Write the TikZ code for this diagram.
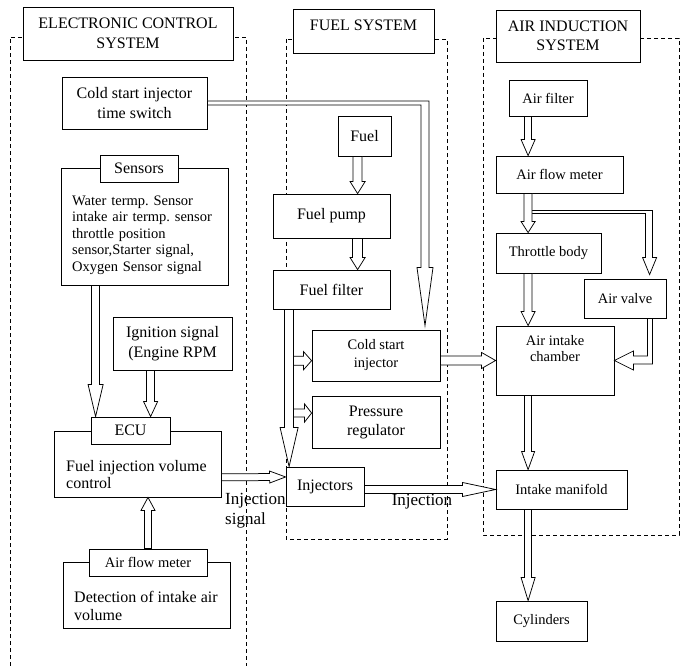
\documentclass[tikz,border=0pt]{standalone}
\usepackage{fontspec}
\setmainfont{Liberation Serif}
\usetikzlibrary{calc}
\frenchspacing
\newcommand\fsA{\fontsize{16}{20}\selectfont}
\newcommand\fsB{\fontsize{14.5}{16.5}\selectfont}
\newcommand\fsC{\fontsize{17}{20}\selectfont}
\tikzset{
  box/.style={draw, line width=0.8pt, fill=white, inner sep=0pt, align=center, font=\fsA},
  txt/.style={inner sep=0pt, align=left},
  frame/.style={line width=0.7pt, dash pattern=on 4pt off 3pt},
  fatarrow/.style={draw, line width=0.75pt, fill=white},
  fat/.style n args={3}{to path={
    let \p1=(\tikztostart), \p2=(\tikztotarget),
        \n1={veclen(\x2-\x1,\y2-\y1)},
        \n2={(\x2-\x1)/\n1}, \n3={(\y2-\y1)/\n1} in
    (\x1-#1*\n3*1pt, \y1+#1*\n2*1pt)
    -- (\x2-#3*\n2*1pt-#1*\n3*1pt, \y2-#3*\n3*1pt+#1*\n2*1pt)
    -- (\x2-#3*\n2*1pt-#2*\n3*1pt, \y2-#3*\n3*1pt+#2*\n2*1pt)
    -- (\x2,\y2)
    -- (\x2-#3*\n2*1pt+#2*\n3*1pt, \y2-#3*\n3*1pt-#2*\n2*1pt)
    -- (\x2-#3*\n2*1pt+#1*\n3*1pt, \y2-#3*\n3*1pt-#1*\n2*1pt)
    -- (\x1+#1*\n3*1pt, \y1-#1*\n2*1pt) -- cycle}}
}
\begin{document}
\begin{tikzpicture}[x=1pt,y=-1pt]
\useasboundingbox (0,0) rectangle (686,666);
% dashed system frames
\draw[frame] (10,666) |- (246,37) -- (246,666);
\draw[frame] (286,39) rectangle (447,539);
\draw[frame] (483,38) rectangle (679,535);

% titles
\node[box, minimum width=210, minimum height=53] (ect) at (128,33.5) {ELECTRONIC CONTROL\\SYSTEM};
\node[box, minimum width=141, minimum height=44, text height=11pt, text depth=12pt] (fst) at (363.5,31) {FUEL SYSTEM};
\node[box, minimum width=144, minimum height=52, font=\fontsize{16}{19}\selectfont] (ais) at (568,36) {AIR INDUCTION\\SYSTEM};

% electronic control system
\node[box, minimum width=145, minimum height=52] (cst) at (134.5,103) {Cold start injector\\time switch};
\node[box, minimum width=167, minimum height=117] (sens) at (144.5,226.5) {};
\node[box, minimum width=78, minimum height=27] (sensL) at (139,168.5) {Sensors};
\node[txt, anchor=west, font=\fsB, text width=152] (sensT) at (72,235) {Water termp. Sensor\\intake air termp. sensor\\throttle position\\sensor,Starter signal,\\Oxygen Sensor signal};
\node[box, minimum width=119, minimum height=53] (ign) at (172.5,343.5) {Ignition signal\\(Engine RPM};
\node[box, minimum width=167, minimum height=66] (ecu) at (137.5,464) {};
\node[box, minimum width=79, minimum height=27] (ecuL) at (130.5,430.5) {ECU};
\node[txt, anchor=west, font=\fontsize{16}{17}\selectfont] (ecuT) at (66,474.5) {Fuel injection volume\\control};
\node[box, minimum width=167, minimum height=66] (afmL) at (146.5,595) {};
\node[box, minimum width=118, minimum height=27, font=\fsB] (afmLL) at (148,562.5) {Air flow meter};
\node[txt, anchor=west, font=\fontsize{16}{18}\selectfont] (afmT) at (74,606) {Detection of intake air\\volume};
\node[txt, anchor=west, font=\fsC] (injsig) at (225,511) {Injection\\signal};

% fuel system
\node[box, minimum width=53, minimum height=40] (fuel) at (364.5,136) {Fuel};
\node[box, minimum width=117, minimum height=44] (fp) at (331.5,216) {Fuel pump};
\node[box, minimum width=117, minimum height=39] (ff) at (331.5,289.5) {Fuel filter};
\node[box, minimum width=128, minimum height=51, font=\fontsize{14.5}{18}\selectfont] (csi) at (376,355.5) {Cold start\\injector};
\node[box, minimum width=128, minimum height=52, font=\fontsize{16}{19}\selectfont] (pr) at (376,422) {Pressure\\regulator};
\node[box, minimum width=78, minimum height=39] (inj) at (325,486.5) {Injectors};
\node[txt, font=\fsC] (injlbl) at (422,502) {Injection};

% air induction system
\node[box, minimum width=78, minimum height=36, font=\fsB] (af) at (548,98) {Air filter};
\node[box, minimum width=127, minimum height=37, font=\fsB] (afm) at (559.5,174.5) {Air flow meter};
\node[box, minimum width=105, minimum height=40, font=\fsB] (tb) at (548.5,253) {Throttle body};
\node[box, minimum width=82, minimum height=39, font=\fsB] (av) at (625,298.5) {Air valve};
\node[box, minimum width=118, minimum height=69] (aic) at (555,360.5) {};
\node[txt, align=center, font=\fontsize{14.5}{16}\selectfont] (aicT) at (555,349) {Air intake\\chamber};
\node[box, minimum width=131, minimum height=39, font=\fsB] (im) at (561.5,489.5) {Intake manifold};
\node[box, minimum width=91, minimum height=40, font=\fsB] (cyl) at (541.5,621) {Cylinders};

% helper coordinates on box sides
\coordinate (c1) at ($(csi.north west)!0.6!(csi.south west)$);
\coordinate (c2) at ($(pr.north west)!0.33!(pr.south west)$);

% connectors (hollow arrows)
\draw[fatarrow, fat={4}{7.5}{32}] ([xshift=35pt]sens.south west) to ([xshift=5pt]ecuL.north west);
\draw[fatarrow, fat={4}{7}{15}] ([xshift=38pt]ign.south west) to ([xshift=60pt]ecuL.north west);
\draw[fatarrow, fat={3.5}{7}{13}] (afmLL.north) to (afmLL.north |- ecu.south);
\draw[fatarrow, fat={3.5}{6}{16}] ($(ecu.north east)!0.7!(ecu.south east)$) to ($(inj.north west)!0.26!(inj.south west)$);
\draw[fatarrow, fat={4}{7}{33}] (inj.east |- im.west) to (im.west);
\draw[fatarrow, fat={4.5}{8}{14}] (csi.east |- aic.west) to (aic.west);
\draw[fatarrow, fat={4.5}{7.5}{12}] ([xshift=20pt]fuel.south west) to ([xshift=85pt]fp.north west);
\draw[fatarrow, fat={5}{7.5}{12}] ([xshift=85pt]fp.south west) to ([xshift=85pt]ff.north west);
\draw[fatarrow, fat={4.5}{9}{8}] ([xshift=-18pt]c1) to (c1);
\draw[fatarrow, fat={4}{9}{7}] ([xshift=-18pt]c2) to (c2);
\draw[fatarrow, fat={4.5}{9}{39}] ([xshift=16.5pt]ff.south west) to ([xshift=3.5pt]inj.north west);
\draw[fatarrow, fat={3.5}{7}{16}] ([xshift=19.5pt]af.south west) to ([xshift=32.5pt]afm.north west);
% branch from air flow meter to air valve
\draw[fatarrow] let \p1=(afm.south west), \p2=(av.north west) in
  (\x1+36pt,\y1-17pt) -- (\x2+69pt,\y1-17pt) -- (\x2+69pt,\y2+21pt) -- (\x2+73pt,\y2+21pt)
  -- (\x2+66pt,\y2+4pt) -- (\x2+59pt,\y2+21pt) -- (\x2+62pt,\y2+21pt) -- (\x2+62pt,\y1-20pt)
  -- (\x1+36pt,\y1-20pt) -- cycle;
\draw[fatarrow, fat={4}{7}{11}] ([xshift=32.5pt]afm.south west) to ([xshift=32.5pt]tb.north west);
\draw[fatarrow, fat={4}{7}{14}] ([xshift=32.5pt]tb.south west) to ([xshift=32.5pt]aic.north west);
% air valve to air intake chamber
\draw[fatarrow] let \p1=(av.south west), \p2=(aic.east) in
  (\x1+64pt,\y1) -- (\x1+64pt,\y2+4.5pt) -- (\x2+19pt,\y2+4.5pt) -- (\x2+19pt,\y2+9.5pt)
  -- (\x2,\y2) -- (\x2+19pt,\y2-9.5pt) -- (\x2+19pt,\y2-3.5pt) -- (\x1+69pt,\y2-3.5pt)
  -- (\x1+69pt,\y1) -- cycle;
\draw[fatarrow, fat={3.5}{6.5}{18}] ([xshift=32.5pt]aic.south west) to ([xshift=32.5pt]im.north west);
\draw[fatarrow, fat={3.5}{7}{23}] ([xshift=32.5pt]im.south west) to ([xshift=32.5pt]cyl.north west);
% cold start injector time switch to cold start injector
\draw[fatarrow] let \p1=(cst.east), \p2=(csi.north) in
  (\x1,\y1+2pt) -- (\x2+53pt,\y1+2pt) -- (\x2+53pt,\y2+62pt) -- (\x2+57pt,\y2+62pt)
  -- (\x2+49pt,\y2+4pt) -- (\x2+41pt,\y2+62pt) -- (\x2+45pt,\y2+62pt) -- (\x2+45pt,\y1-2pt)
  -- (\x1,\y1-2pt) -- cycle;
\end{tikzpicture}
\end{document}
